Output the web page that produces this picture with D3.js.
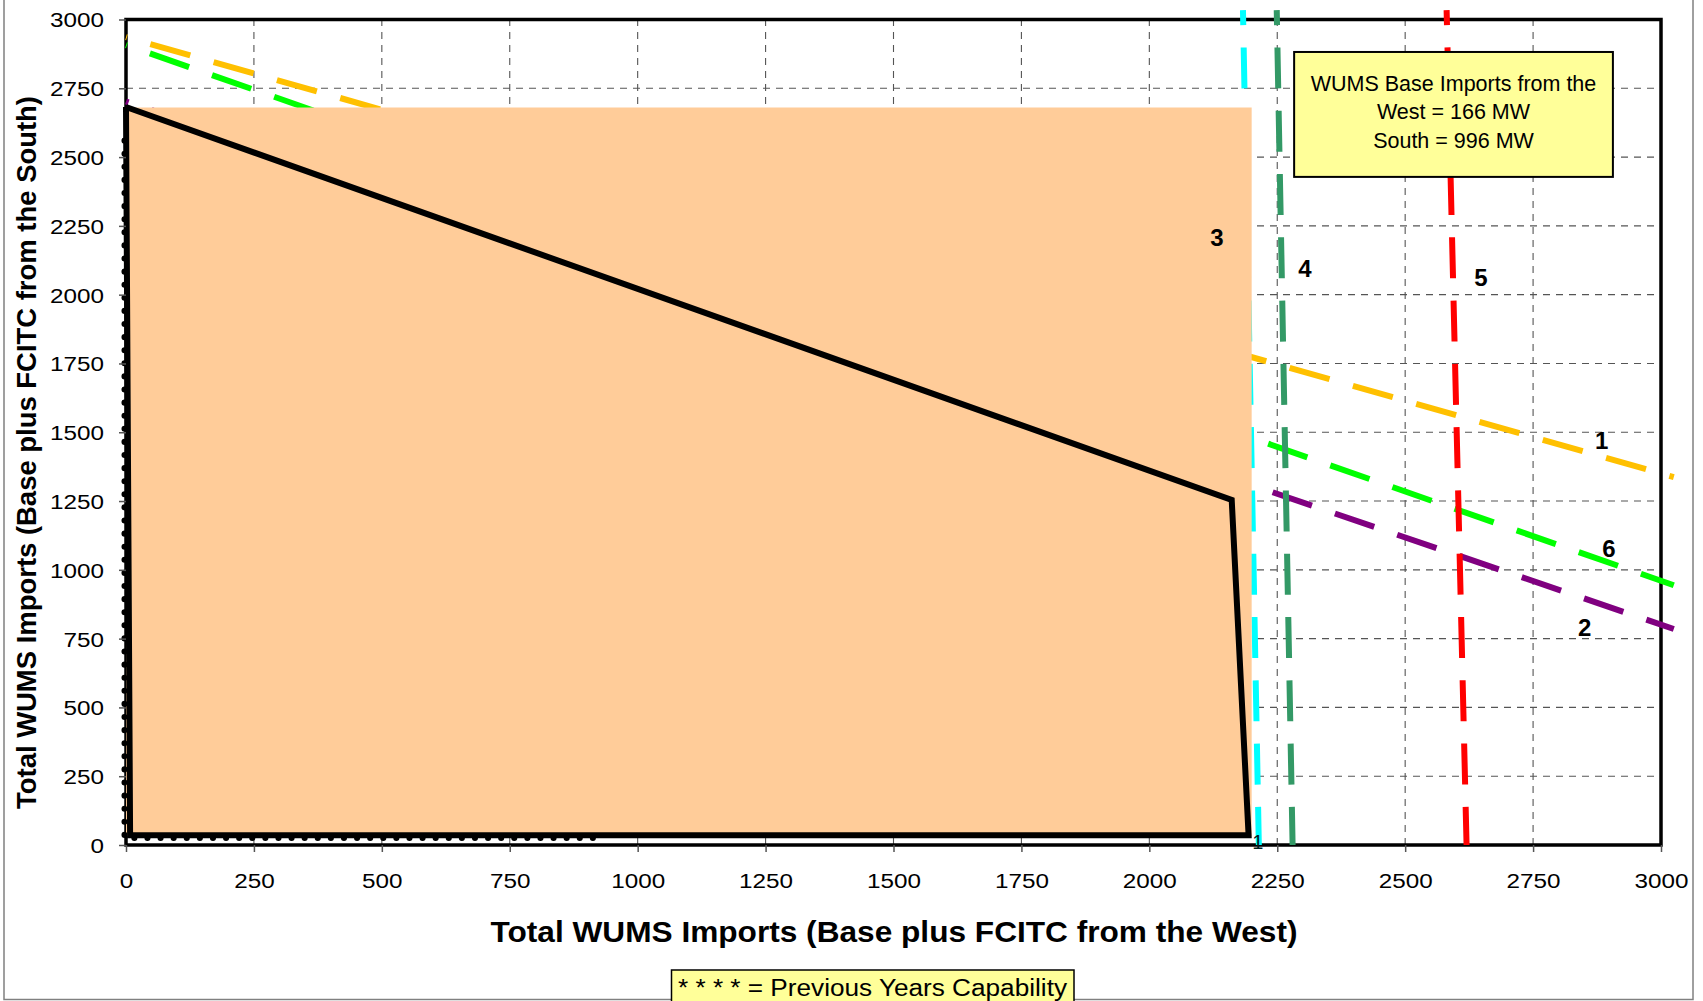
<!DOCTYPE html>
<html>
<head>
<meta charset="utf-8">
<script src="https://cdn.jsdelivr.net/npm/d3@7"></script>
<style>
  html, body { margin: 0; padding: 0; background: #fff; }
  svg { display: block; font-family: "Liberation Sans", Arial, sans-serif; }
</style>
</head>
<body>
<script>
// ---------------- DATA ----------------
const xTicks = [0, 250, 500, 750, 1000, 1250, 1500, 1750, 2000, 2250, 2500, 2750, 3000];
const yTicks = [0, 250, 500, 750, 1000, 1250, 1500, 1750, 2000, 2250, 2500, 2750, 3000];

const line1 = [[0, 2936], [3025, 1337]];   // orange
const line6 = [[0, 2907], [3025, 944]];    // green
const line2 = [[0, 2702], [3025, 785]];    // purple
const line3 = [[2183, 3034], [2214, 0]];   // cyan
const line4 = [[2249, 3034], [2280, 0]];   // sea green
const line5 = [[2581, 3034], [2620, 0]];   // red

const capabilityArea = [[0, 33], [0, 2680], [2200, 2680], [2200, 33]];
const capabilityLine = [[0, 2682], [8, 35], [2194, 35], [2161, 1254], [0, 2682]];
const previousYears = [[-3, 2560], [-3, 25], [930, 25]];

const lineLabels = ["1", "6", "2", "3", "4", "5"];
const lineLabelX = [2884, 2898, 2851, 2132, 2304, 2648];
const lineLabelY = [1472, 1079, 792, 2209, 2097, 2064];

const smallLabel = { text: "1", x: 2212, y: 12 };

const infoLines = ["WUMS Base Imports from the", "West = 166 MW", "South = 996 MW"];
const infoBoxX = [2283, 2906];
const infoBoxY = [2882, 2428];

const xTitle = "Total WUMS Imports (Base plus FCITC from the West)";
const yTitle = "Total WUMS Imports (Base plus FCITC from the South)";
const legendText = "* * * * = Previous Years Capability";

// ---------------- STYLES ----------------
const lineStyles = [
  { data: line1, color: "#FFC000", dash: "41.5,24.3", offset: 40.5 },
  { data: line6, color: "#00FF00", dash: "41.5,24.3", offset: 40.5 },
  { data: line2, color: "#800080", dash: "41.5,24.3", offset: 38.8 },
  { data: line3, color: "#00FFFF", dash: "41,22.3", offset: 26 },
  { data: line4, color: "#339966", dash: "41,22.3", offset: 26 },
  { data: line5, color: "#FF0000", dash: "41,22.3", offset: 26 }
];

// ---------------- LAYOUT ----------------
const W = 1703, H = 1001;
const margin = { left: 126, right: 42, top: 19.5, bottom: 156 };

const x = d3.scaleLinear().domain([0, 3000]).range([margin.left, W - margin.right]);
const y = d3.scaleLinear().domain([0, 3000]).range([H - margin.bottom, margin.top]);

const svg = d3.select("body").append("svg").attr("width", W).attr("height", H);

// outer chart border
svg.append("rect")
  .attr("x", 4).attr("y", -10).attr("width", 1689).attr("height", 1009.5)
  .attr("fill", "#fff").attr("stroke", "#808080").attr("stroke-width", 1.5);

// gridlines
const grid = svg.append("g").attr("stroke", "#555").attr("stroke-width", 1.1).attr("stroke-dasharray", "7,6");
grid.selectAll("line.v").data(xTicks.filter(d => d > 0 && d < 3000)).join("line")
  .attr("x1", d => x(d)).attr("x2", d => x(d)).attr("y1", y(0)).attr("y2", y(3000));
grid.selectAll("line.h").data(yTicks.filter(d => d > 0 && d < 3000)).join("line")
  .attr("y1", d => y(d)).attr("y2", d => y(d)).attr("x1", x(0)).attr("x2", x(3000));

// plot frame
svg.append("rect")
  .attr("x", x(0)).attr("y", y(3000)).attr("width", x(3000) - x(0)).attr("height", y(0) - y(3000))
  .attr("fill", "none").attr("stroke", "#000").attr("stroke-width", 3.5);

const lineGen = d3.line().x(d => x(d[0])).y(d => y(d[1]));

// dashed limit lines
svg.append("g").selectAll("path").data(lineStyles).join("path")
  .attr("d", d => lineGen(d.data))
  .attr("fill", "none")
  .attr("stroke", d => d.color)
  .attr("stroke-width", 6)
  .attr("stroke-dasharray", d => d.dash)
  .attr("stroke-dashoffset", d => d.offset);

// capability area
svg.append("path")
  .attr("d", lineGen(capabilityArea) + "Z")
  .attr("fill", "#FFCC99").attr("stroke", "none");

// previous years (dotted)
svg.append("path")
  .attr("d", lineGen(previousYears))
  .attr("fill", "none").attr("stroke", "#000").attr("stroke-width", 6)
  .attr("stroke-linecap", "round").attr("stroke-dasharray", "0.1,13");

// capability boundary
svg.append("path")
  .attr("d", lineGen(capabilityLine))
  .attr("fill", "none").attr("stroke", "#000").attr("stroke-width", 6)
  .attr("stroke-linejoin", "miter");

// axes
const yAxis = svg.append("g").attr("transform", `translate(${x(0)},0)`)
  .call(d3.axisLeft(y).tickValues(yTicks).tickSize(7).tickPadding(15).tickFormat(d3.format("d")));
const xAxis = svg.append("g").attr("transform", `translate(0,${y(0)})`)
  .call(d3.axisBottom(x).tickValues(xTicks).tickSize(7).tickPadding(21).tickFormat(d3.format("d")));
[yAxis, xAxis].forEach(g => {
  g.select(".domain").remove();
  g.selectAll(".tick line").attr("stroke", "#555").attr("stroke-width", 1.5);
  g.selectAll(".tick text")
    .attr("font-size", 20.5).attr("fill", "#000")
    .attr("font-family", "Liberation Sans, Arial, sans-serif")
    .attr("textLength", d => String(d).length * 13.5)
    .attr("lengthAdjust", "spacingAndGlyphs");
});
yAxis.selectAll(".tick text").attr("dy", "0.36em");

// axis titles
svg.append("text")
  .attr("x", (x(0) + x(3000)) / 2 + 0.5).attr("y", 941.5)
  .attr("text-anchor", "middle").attr("font-size", 30).attr("font-weight", "bold")
  .attr("textLength", 807).attr("lengthAdjust", "spacingAndGlyphs")
  .text(xTitle);

svg.append("text")
  .attr("transform", "translate(35.5,452.5) rotate(-90)")
  .attr("text-anchor", "middle").attr("font-size", 28).attr("font-weight", "bold")
  .attr("textLength", 713).attr("lengthAdjust", "spacingAndGlyphs")
  .text(yTitle);

// line labels
svg.append("g").selectAll("text").data(lineLabels).join("text")
  .attr("x", (d, i) => x(lineLabelX[i])).attr("y", (d, i) => y(lineLabelY[i]))
  .attr("dy", "0.36em")
  .attr("text-anchor", "middle").attr("font-size", 24).attr("font-weight", "bold")
  .text(d => d);

svg.append("text")
  .attr("x", x(smallLabel.x)).attr("y", y(smallLabel.y)).attr("dy", "0.36em")
  .attr("text-anchor", "middle").attr("font-size", 20).attr("fill", "#022")
  .text(smallLabel.text);

// info box
svg.append("rect")
  .attr("x", x(infoBoxX[0])).attr("y", y(infoBoxY[0]))
  .attr("width", x(infoBoxX[1]) - x(infoBoxX[0])).attr("height", y(infoBoxY[1]) - y(infoBoxY[0]))
  .attr("fill", "#FFFF99").attr("stroke", "#000").attr("stroke-width", 2);
svg.append("g").selectAll("text").data(infoLines).join("text")
  .attr("x", (x(infoBoxX[0]) + x(infoBoxX[1])) / 2)
  .attr("y", (d, i) => y(infoBoxY[0]) + 38.7 + i * 28.5)
  .attr("text-anchor", "middle").attr("font-size", 21.5)
  .text(d => d);

// legend box at bottom
svg.append("rect")
  .attr("x", 671.5).attr("y", 970).attr("width", 402.5).attr("height", 45)
  .attr("fill", "#FFFF99").attr("stroke", "#000").attr("stroke-width", 1.5);
svg.append("text")
  .attr("x", 678).attr("y", 995.5).attr("font-size", 23)
  .attr("textLength", 389).attr("lengthAdjust", "spacingAndGlyphs")
  .text(legendText);
</script>
</body>
</html>
